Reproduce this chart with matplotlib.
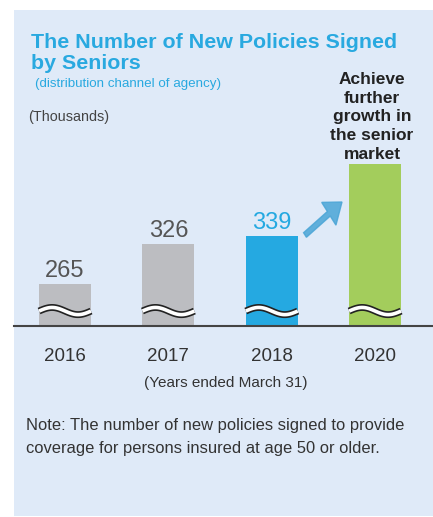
import numpy as np
import matplotlib.pyplot as plt
from matplotlib.patches import Rectangle, FancyArrow

years = ['2016', '2017', '2018', '2020']
policies = [265, 326, 339, 450]          # 2020 is a target bar, no value shown
value_labels = ['265', '326', '339', '']
bar_colors = ['#bcbdc1', '#bcbdc1', '#25a9e1', '#a3cd5c']
label_colors = ['#555555', '#555555', '#25a9e1', '#555555']

W, H = 433, 517
plt.rcParams['font.family'] = ['Liberation Sans', 'DejaVu Sans']
fig = plt.figure(figsize=(W / 100, H / 100), dpi=100)
fig.patch.set_facecolor('white')

def fx(px):
    return px / W

def fy(py):
    return 1 - py / H

# light blue panel
fig.patches.append(Rectangle((fx(14), fy(516)), fx(433) - fx(14), fy(10) - fy(516),
                             transform=fig.transFigure, facecolor='#dfeaf8',
                             edgecolor='none', zorder=-5))

# axes: baseline at y=326 px, 0.65 px per thousand, broken at 200
base_px, top_px = 326, 100
ax = fig.add_axes([fx(14), fy(base_px), fx(433) - fx(14), (base_px - top_px) / H])
ax.set_facecolor('none')
ax.set_zorder(2)
ymin = 200
ax.set_ylim(ymin, ymin + (base_px - top_px) / 0.65)
ax.set_xlim(-0.494, 3.56)
x = np.arange(len(years))
width = 0.503
ax.bar(x, policies, width=width, color=bar_colors, zorder=2)

for spine in ['top', 'right', 'left']:
    ax.spines[spine].set_visible(False)
ax.spines['bottom'].set_color('#444444')
ax.spines['bottom'].set_linewidth(1.5)
ax.set_yticks([])
ax.set_xticks(x)
ax.set_xticklabels(years, fontsize=13.5, color='#333333')
ax.tick_params(axis='x', length=0, pad=16)

# wavy break marks
t = np.linspace(0, 1, 100)
for xi in x:
    wx = xi - width / 2 + t * width
    wy = 223 + 5.5 * np.sin(2 * np.pi * t)
    ax.plot(wx, wy, color='#222222', lw=5.0, solid_capstyle='butt', zorder=3)
    ax.plot(wx, wy, color='white', lw=2.6, solid_capstyle='butt', zorder=4)

for xi, v, lab, c in zip(x, policies, value_labels, label_colors):
    if lab:
        ax.text(xi, v + 3, lab, ha='center', va='bottom', fontsize=17, color=c)

# growth arrow
fig.patches.append(FancyArrow(fx(305), fy(235), fx(342) - fx(305), fy(202) - fy(235),
                              width=0.011, head_width=0.055, head_length=0.038,
                              length_includes_head=True, transform=fig.transFigure,
                              color='#4aa5d6', alpha=0.85, zorder=5))

blue = '#29a9e0'
fig.text(fx(31), fy(33), 'The Number of New Policies Signed\nby Seniors', fontsize=15.4,
         fontweight='bold', color=blue, ha='left', va='top', linespacing=1.12)
fig.text(fx(35), fy(84), '(distribution channel of agency)', fontsize=9.6, color=blue,
         ha='left', va='center')
fig.text(fx(28), fy(117), '(Thousands)', fontsize=10.4, color='#444444', ha='left', va='center')
fig.text(fx(372), fy(117), 'Achieve\nfurther\ngrowth in\nthe senior\nmarket', fontsize=12.5,
         fontweight='bold', color='#222222', ha='center', va='center', linespacing=1.3)
fig.text(fx(226), fy(383), '(Years ended March 31)', fontsize=11, color='#333333',
         ha='center', va='center')
fig.text(fx(26), fy(437), 'Note: The number of new policies signed to provide\n'
         'coverage for persons insured at age 50 or older.', fontsize=11.85,
         color='#333333', ha='left', va='center', linespacing=1.6)

fig.savefig('out.png', dpi=100, facecolor=fig.get_facecolor())
